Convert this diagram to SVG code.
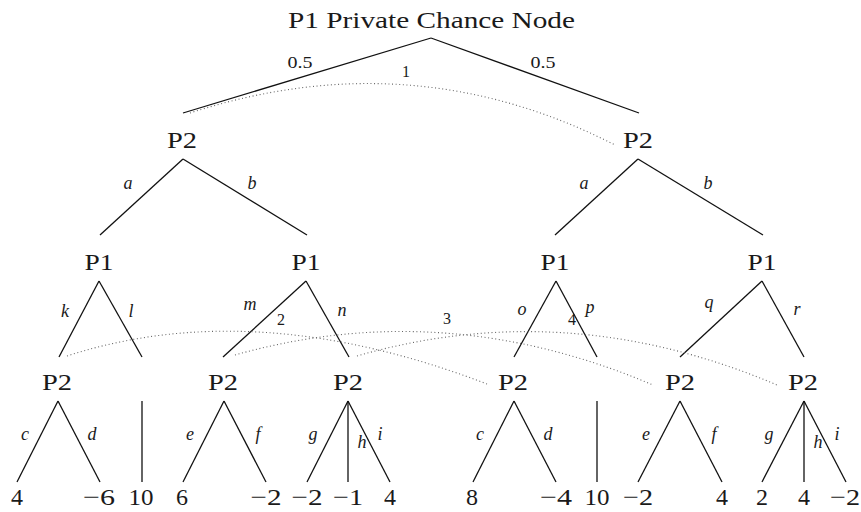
<svg xmlns="http://www.w3.org/2000/svg" width="861" height="512" viewBox="0 0 861 512">
<style>
text{font-family:"Liberation Serif","Times New Roman",serif;fill:#1a1a1a;text-anchor:middle}
.title{font-size:23px}
.node{font-size:23px}
.leaf{font-size:24px}
.lab{font-size:18px;font-style:italic}
.num{font-size:16px}
.edge{stroke:#111;stroke-width:1.3;fill:none}
.info{stroke:#666;stroke-width:1.1;fill:none;stroke-dasharray:1 2.6}
</style>
<rect width="861" height="512" fill="#fff"/>
<g id="connectors">
<line class="edge" x1="431" y1="38" x2="183" y2="113"/>
<line class="edge" x1="431" y1="38" x2="639" y2="113"/>
<line class="edge" x1="183" y1="159" x2="100" y2="235"/>
<line class="edge" x1="183" y1="159" x2="307" y2="235"/>
<line class="edge" x1="638" y1="159" x2="555" y2="235"/>
<line class="edge" x1="638" y1="159" x2="763" y2="235"/>
<line class="edge" x1="99" y1="281" x2="59" y2="357"/>
<line class="edge" x1="99" y1="281" x2="142" y2="357"/>
<line class="edge" x1="306" y1="281" x2="223" y2="357"/>
<line class="edge" x1="306" y1="281" x2="349" y2="357"/>
<line class="edge" x1="556" y1="281" x2="514" y2="357"/>
<line class="edge" x1="556" y1="281" x2="597" y2="357"/>
<line class="edge" x1="762" y1="281" x2="680" y2="357"/>
<line class="edge" x1="762" y1="281" x2="804" y2="357"/>
<line class="edge" x1="58" y1="401" x2="17" y2="482"/>
<line class="edge" x1="58" y1="401" x2="100" y2="482"/>
<line class="edge" x1="142" y1="401" x2="142" y2="482"/>
<line class="edge" x1="224" y1="401" x2="183" y2="482"/>
<line class="edge" x1="224" y1="401" x2="266" y2="482"/>
<line class="edge" x1="348" y1="401" x2="307" y2="482"/>
<line class="edge" x1="348" y1="401" x2="348" y2="482"/>
<line class="edge" x1="348" y1="401" x2="390" y2="482"/>
<line class="edge" x1="514" y1="401" x2="473" y2="482"/>
<line class="edge" x1="514" y1="401" x2="556" y2="482"/>
<line class="edge" x1="597" y1="401" x2="597" y2="482"/>
<line class="edge" x1="680" y1="401" x2="638" y2="482"/>
<line class="edge" x1="680" y1="401" x2="722" y2="482"/>
<line class="edge" x1="804" y1="401" x2="762" y2="482"/>
<line class="edge" x1="804" y1="401" x2="804" y2="482"/>
<line class="edge" x1="804" y1="401" x2="846" y2="482"/>
<path class="info" d="M190,113 Q411.5,41 615,145"/>
<path class="info" d="M67,356 Q255,295 487,384"/>
<path class="info" d="M235,355 Q444,296 653,385"/>
<path class="info" d="M357,356 Q567,295.5 777,385"/>
<text class="num" x="300" y="68" textLength="25" lengthAdjust="spacingAndGlyphs">0.5</text>
<text class="num" x="543" y="68" textLength="25" lengthAdjust="spacingAndGlyphs">0.5</text>
<text class="num" x="406" y="77">1</text>
<text class="num" x="281" y="325">2</text>
<text class="num" x="447" y="324">3</text>
<text class="num" x="572" y="325">4</text>
<text class="lab" x="128" y="189">a</text>
<text class="lab" x="252" y="189">b</text>
<text class="lab" x="584" y="189">a</text>
<text class="lab" x="708" y="189">b</text>
<text class="lab" x="65" y="317">k</text>
<text class="lab" x="131" y="317">l</text>
<text class="lab" x="250" y="310">m</text>
<text class="lab" x="342" y="316">n</text>
<text class="lab" x="522" y="315">o</text>
<text class="lab" x="590" y="313">p</text>
<text class="lab" x="709" y="308">q</text>
<text class="lab" x="797" y="315">r</text>
<text class="lab" x="25" y="440">c</text>
<text class="lab" x="92" y="440">d</text>
<text class="lab" x="190" y="440">e</text>
<text class="lab" x="258" y="440">f</text>
<text class="lab" x="313" y="440">g</text>
<text class="lab" x="362" y="448">h</text>
<text class="lab" x="380" y="440">i</text>
<text class="lab" x="480" y="440">c</text>
<text class="lab" x="548" y="440">d</text>
<text class="lab" x="646" y="440">e</text>
<text class="lab" x="714" y="440">f</text>
<text class="lab" x="769" y="440">g</text>
<text class="lab" x="818" y="448">h</text>
<text class="lab" x="837" y="440">i</text>
</g>
<g id="root"><text class="title" x="431.5" y="28" textLength="287" lengthAdjust="spacingAndGlyphs">P1 Private Chance Node</text></g>
<g id="p2-left"><text class="node" x="182" y="148" textLength="30" lengthAdjust="spacingAndGlyphs">P2</text></g>
<g id="p2-right"><text class="node" x="638" y="148" textLength="30" lengthAdjust="spacingAndGlyphs">P2</text></g>
<g id="p1-1"><text class="node" x="99" y="270" textLength="29" lengthAdjust="spacingAndGlyphs">P1</text></g>
<g id="p1-2"><text class="node" x="306" y="270" textLength="29" lengthAdjust="spacingAndGlyphs">P1</text></g>
<g id="p1-3"><text class="node" x="555" y="270" textLength="29" lengthAdjust="spacingAndGlyphs">P1</text></g>
<g id="p1-4"><text class="node" x="762" y="270" textLength="29" lengthAdjust="spacingAndGlyphs">P1</text></g>
<g id="p2-1"><text class="node" x="57" y="390" textLength="30" lengthAdjust="spacingAndGlyphs">P2</text></g>
<g id="p2-2"><text class="node" x="223" y="390" textLength="30" lengthAdjust="spacingAndGlyphs">P2</text></g>
<g id="p2-3"><text class="node" x="348" y="390" textLength="30" lengthAdjust="spacingAndGlyphs">P2</text></g>
<g id="p2-4"><text class="node" x="513" y="390" textLength="30" lengthAdjust="spacingAndGlyphs">P2</text></g>
<g id="p2-5"><text class="node" x="680" y="390" textLength="30" lengthAdjust="spacingAndGlyphs">P2</text></g>
<g id="p2-6"><text class="node" x="803" y="390" textLength="30" lengthAdjust="spacingAndGlyphs">P2</text></g>
<g id="leaves">
<g id="leaf-1"><text class="leaf" x="17" y="505">4</text></g>
<g id="leaf-2"><text class="leaf" x="99" y="505" textLength="32" lengthAdjust="spacingAndGlyphs">−6</text></g>
<g id="leaf-3"><text class="leaf" x="141" y="505" textLength="25" lengthAdjust="spacingAndGlyphs">10</text></g>
<g id="leaf-4"><text class="leaf" x="182" y="505">6</text></g>
<g id="leaf-5"><text class="leaf" x="266" y="505" textLength="31" lengthAdjust="spacingAndGlyphs">−2</text></g>
<g id="leaf-6"><text class="leaf" x="307" y="505" textLength="31" lengthAdjust="spacingAndGlyphs">−2</text></g>
<g id="leaf-7"><text class="leaf" x="348" y="505" textLength="30" lengthAdjust="spacingAndGlyphs">−1</text></g>
<g id="leaf-8"><text class="leaf" x="390" y="505">4</text></g>
<g id="leaf-9"><text class="leaf" x="472" y="505">8</text></g>
<g id="leaf-10"><text class="leaf" x="556" y="505" textLength="32" lengthAdjust="spacingAndGlyphs">−4</text></g>
<g id="leaf-11"><text class="leaf" x="597" y="505" textLength="25" lengthAdjust="spacingAndGlyphs">10</text></g>
<g id="leaf-12"><text class="leaf" x="638" y="505" textLength="30" lengthAdjust="spacingAndGlyphs">−2</text></g>
<g id="leaf-13"><text class="leaf" x="722" y="505">4</text></g>
<g id="leaf-14"><text class="leaf" x="762" y="505">2</text></g>
<g id="leaf-15"><text class="leaf" x="804" y="505">4</text></g>
<g id="leaf-16"><text class="leaf" x="845" y="505" textLength="30" lengthAdjust="spacingAndGlyphs">−2</text></g>
</g>
</svg>
